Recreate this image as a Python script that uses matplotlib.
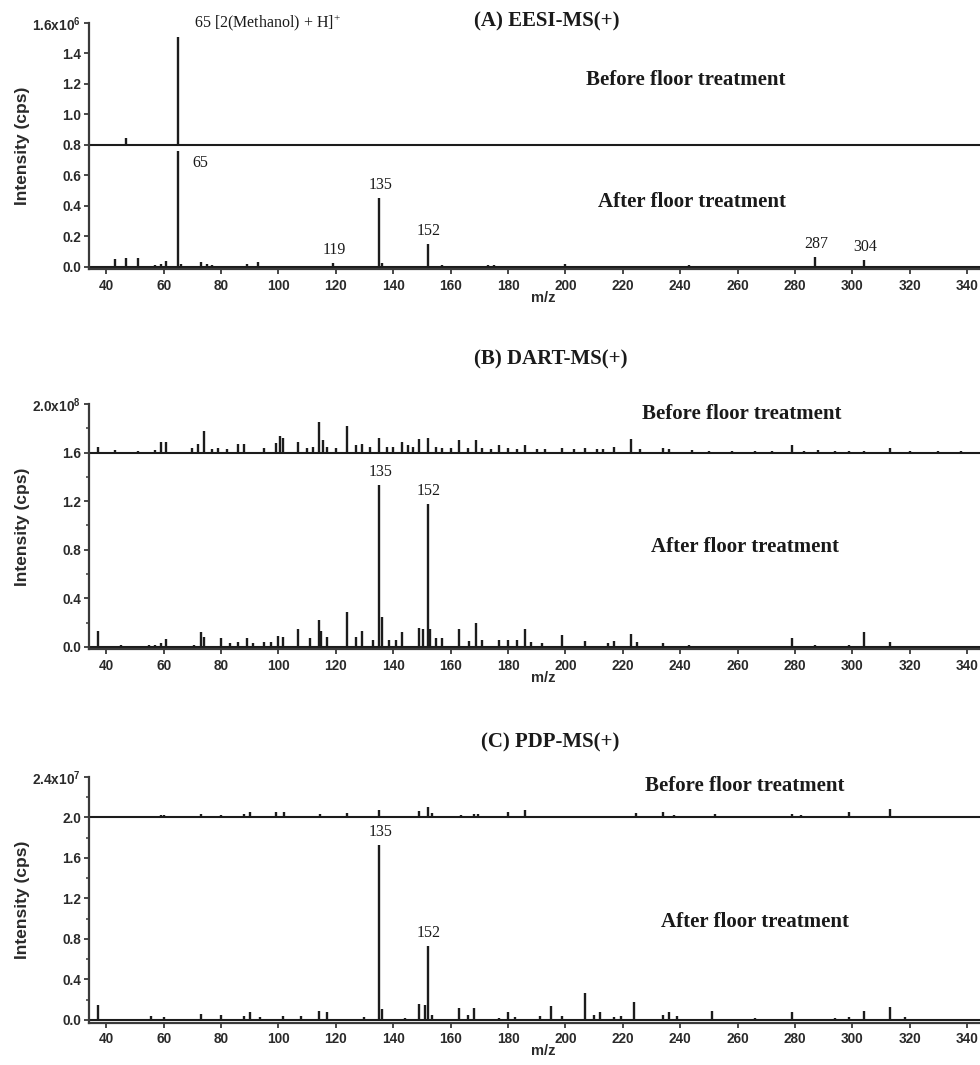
import matplotlib
matplotlib.use("Agg")
import matplotlib.pyplot as plt
from matplotlib.ticker import MultipleLocator, FixedLocator

plt.rcParams['mathtext.fontset'] = 'custom'
plt.rcParams['mathtext.rm'] = 'Liberation Serif'
plt.rcParams['mathtext.sf'] = 'Liberation Sans:bold'

# ---------------- data ----------------
# (A) EESI-MS(+), intensity in 1e6 cps
A_before_mz = [47, 65, 97]
A_before_int = [0.045, 0.71, 0.005]
A_after_mz = [43, 47, 51, 57, 59, 61, 65, 66, 73, 75, 77, 89, 93, 119, 135, 136,
              152, 157, 173, 175, 200, 243, 287, 304]
A_after_int = [0.05, 0.06, 0.055, 0.01, 0.015, 0.035, 0.76, 0.02, 0.03, 0.015, 0.01,
               0.015, 0.03, 0.025, 0.45, 0.025, 0.15, 0.01, 0.012, 0.01, 0.015, 0.008,
               0.065, 0.045]

# (B) DART-MS(+), intensity in 1e8 cps
B_before_mz = [37, 43, 51, 57, 59, 61, 70, 72, 74, 77, 79, 82, 86, 88, 95, 99, 100.5,
               101.5, 107, 110, 112, 114, 115.5, 117, 120, 124, 127, 129, 132, 135, 138,
               140, 143, 145, 147, 149, 152, 155, 157, 160, 163, 166, 169, 171, 174, 177,
               180, 183, 186, 190, 193, 199, 203, 207, 211, 213, 217, 223, 226, 234, 236,
               244, 250, 258, 266, 272, 279, 283, 288, 294, 299, 304, 313, 320, 330, 338]
B_before_int = [0.045, 0.02, 0.01, 0.02, 0.09, 0.09, 0.04, 0.07, 0.18, 0.03, 0.04, 0.03,
                0.07, 0.07, 0.04, 0.08, 0.14, 0.12, 0.09, 0.04, 0.05, 0.25, 0.1, 0.05,
                0.04, 0.22, 0.06, 0.07, 0.05, 0.12, 0.05, 0.05, 0.09, 0.06, 0.05, 0.11,
                0.12, 0.05, 0.04, 0.04, 0.1, 0.04, 0.1, 0.04, 0.03, 0.06, 0.04, 0.03,
                0.06, 0.03, 0.03, 0.04, 0.03, 0.04, 0.03, 0.03, 0.05, 0.11, 0.03, 0.04,
                0.03, 0.02, 0.015, 0.01, 0.015, 0.01, 0.06, 0.01, 0.02, 0.01, 0.015,
                0.015, 0.035, 0.01, 0.01, 0.01]
B_after_mz = [37, 45, 55, 57, 59, 61, 70.5, 73, 74, 80, 83, 86, 89, 91, 95, 97.5, 100,
              101.5, 107, 111, 114, 115, 117, 124, 127, 129, 133, 135, 136, 138.5, 141,
              143, 149, 150.5, 152, 153, 155, 157, 163, 166.5, 169, 171, 177, 180, 183,
              186, 188, 192, 199, 207, 215, 217, 223, 225, 234, 243, 251, 279, 287, 299,
              304, 313]
B_after_int = [0.13, 0.02, 0.02, 0.02, 0.03, 0.065, 0.02, 0.12, 0.08, 0.07, 0.03, 0.04,
               0.07, 0.03, 0.04, 0.04, 0.09, 0.08, 0.145, 0.07, 0.22, 0.13, 0.08, 0.29,
               0.08, 0.13, 0.06, 1.335, 0.25, 0.06, 0.06, 0.12, 0.16, 0.15, 1.18, 0.15,
               0.07, 0.07, 0.145, 0.05, 0.195, 0.06, 0.06, 0.06, 0.06, 0.15, 0.04, 0.03,
               0.1, 0.05, 0.03, 0.05, 0.105, 0.04, 0.03, 0.015, 0.01, 0.07, 0.02, 0.02,
               0.125, 0.04]

# (C) PDP-MS(+), intensity in 1e7 cps
C_before_mz = [37, 47, 59, 60, 71, 73, 80, 88, 90, 99, 102, 105.5, 108, 114.5, 118, 124,
               135, 149, 152, 153.5, 163.5, 168, 169.5, 180, 186, 195, 200, 207, 217,
               224.5, 234, 238, 252, 258, 266, 279, 282, 294, 299, 313, 330]
C_before_int = [0.01, 0.01, 0.025, 0.02, 0.01, 0.03, 0.02, 0.03, 0.05, 0.05, 0.05, 0.01,
                0.01, 0.03, 0.01, 0.04, 0.07, 0.06, 0.1, 0.04, 0.02, 0.03, 0.03, 0.05,
                0.075, 0.01, 0.01, 0.01, 0.01, 0.04, 0.05, 0.02, 0.03, 0.01, 0.01, 0.035,
                0.02, 0.01, 0.05, 0.085, 0.01]
C_after_mz = [37, 45, 55.5, 60, 73, 80, 88, 90, 93.5, 101.5, 108, 114, 117, 130, 135,
              136, 144, 149, 151, 152, 153.5, 163, 166, 168, 177, 180, 182.5, 191, 195,
              199, 207, 210, 212, 217, 219.5, 224, 234, 236, 239, 251, 266, 279, 294,
              299, 304, 313, 318.5, 330]
C_after_int = [0.145, 0.01, 0.035, 0.03, 0.06, 0.05, 0.04, 0.075, 0.03, 0.04, 0.04, 0.09,
               0.08, 0.025, 1.73, 0.11, 0.02, 0.16, 0.15, 0.73, 0.05, 0.12, 0.05, 0.12,
               0.02, 0.075, 0.03, 0.035, 0.135, 0.04, 0.265, 0.05, 0.08, 0.03, 0.04,
               0.18, 0.05, 0.075, 0.04, 0.085, 0.02, 0.08, 0.02, 0.03, 0.085, 0.13, 0.03,
               0.01]

x_ticks = list(range(40, 341, 20))

panels = [
    dict(title='(A) EESI-MS(+)', before=(A_before_mz, A_before_int), after=(A_after_mz, A_after_int),
         offset=0.8, ylim=(-0.015, 1.6), major=[0.0, 0.2, 0.4, 0.6, 0.8, 1.0, 1.2, 1.4, 1.6],
         minor=None, toplab='1.6x10$^{\\mathsf{6}}$',
         before_pos=(242, 1.226), after_pos=(244, 0.425), title_pos=(193.6, 1.613),
         labels=[119, 135, 152, 287, 304]),
    dict(title='(B) DART-MS(+)', before=(B_before_mz, B_before_int), after=(B_after_mz, B_after_int),
         offset=1.6, ylim=(-0.02, 2.0), major=[0.0, 0.4, 0.8, 1.2, 1.6, 2.0],
         minor=0.2, toplab='2.0x10$^{\\mathsf{8}}$',
         before_pos=(261.6, 1.918), after_pos=(262.6, 0.823), title_pos=(195, 2.37),
         labels=[135, 152]),
    dict(title='(C) PDP-MS(+)', before=(C_before_mz, C_before_int), after=(C_after_mz, C_after_int),
         offset=2.0, ylim=(-0.025, 2.4), major=[0.0, 0.4, 0.8, 1.2, 1.6, 2.0, 2.4],
         minor=0.2, toplab='2.4x10$^{\\mathsf{7}}$',
         before_pos=(262.6, 2.311), after_pos=(266.1, 0.968), title_pos=(194.7, 2.736),
         labels=[135, 152]),
]

W, H = 980, 1065
fig = plt.figure(figsize=(W / 100, H / 100), dpi=100)
# axes pixel boxes: (top_px, bottom_px)
boxes = [(23, 269.0), (404, 649.4), (777, 1022.5)]

line_c = '#1c1c1c'
spine_c = '#3a3a3a'
sans = 'Liberation Sans'
serif = 'Liberation Serif'

for p, (top, bot) in zip(panels, boxes):
    ax = fig.add_axes([89 / W, 1 - bot / H, 1 - 89 / W, (bot - top) / H])
    ax.set_xlim(34, 344.5)
    ax.set_ylim(*p['ylim'])
    off = p['offset']
    # baselines
    ax.axhline(off, color=line_c, lw=1.5, zorder=2)
    ax.axhline(0, color=line_c, lw=1.5, zorder=2)
    bmz, bint = p['before']
    amz, aint = p['after']
    ax.vlines(bmz, off, [off + v for v in bint], color=line_c, lw=1.7, zorder=3)
    ax.vlines(amz, 0, aint, color=line_c, lw=1.7, zorder=3)

    for s in ['top', 'right']:
        ax.spines[s].set_visible(False)
    for s in ['left', 'bottom']:
        ax.spines[s].set_color(spine_c)
        ax.spines[s].set_linewidth(1.6)

    ax.xaxis.set_major_locator(FixedLocator(x_ticks))
    ax.set_xticklabels([str(t) for t in x_ticks])
    ax.yaxis.set_major_locator(FixedLocator(p['major']))
    ylabels = ['%.1f' % v for v in p['major'][:-1]] + [p['toplab']]
    ax.set_yticklabels(ylabels)
    if p['minor']:
        ax.yaxis.set_minor_locator(MultipleLocator(p['minor']))
    ax.tick_params(axis='both', which='major', direction='out', length=3.8, width=1.3,
                   color=spine_c, labelsize=9.8, pad=2)
    ax.tick_params(axis='x', which='major', pad=3.2)
    ax.tick_params(axis='y', which='minor', direction='out', length=2.2, width=1.1, color=spine_c)
    for lab in ax.get_xticklabels() + ax.get_yticklabels():
        lab.set_fontfamily(sans)
        lab.set_fontweight('bold')
        lab.set_color('#2a2a2a')

    ax.set_ylabel('Intensity (cps)', fontfamily=sans, fontweight='bold', fontsize=12.5,
                  color='#2a2a2a')
    ax.yaxis.set_label_coords(-0.066, 0.5)
    ax.set_xlabel('m/z', fontfamily=sans, fontweight='bold', fontsize=10.5, color='#2a2a2a')
    ax.xaxis.set_label_coords(0.51, -0.088)

    ax.text(*p['title_pos'], p['title'], fontfamily=serif, fontweight='bold', fontsize=15,
            ha='center', va='center', clip_on=False, color='#1a1a1a')
    ax.text(*p['before_pos'], 'Before floor treatment', fontfamily=serif, fontweight='bold',
            fontsize=15, ha='center', va='center', color='#1a1a1a')
    ax.text(*p['after_pos'], 'After floor treatment', fontfamily=serif, fontweight='bold',
            fontsize=15, ha='center', va='center', color='#1a1a1a')

    for m in p['labels']:
        v = aint[amz.index(m)]
        ax.annotate(str(m), xy=(m, v), xytext=(1, 3.5), textcoords='offset points',
                    ha='center', va='bottom', fontfamily=serif, fontsize=11.5,
                    color='#1a1a1a')

    if p['title'].startswith('(A)'):
        ax.text(70.5, 1.6, '65 [2(Methanol) + H]$^{+}$', fontfamily=serif, fontsize=11.5,
                ha='left', va='center', clip_on=False, color='#1a1a1a')
        ax.text(70, 0.68, '65', fontfamily=serif, fontsize=11.5, ha='left', va='center',
                color='#1a1a1a')

fig.savefig('out.png', dpi=100)
